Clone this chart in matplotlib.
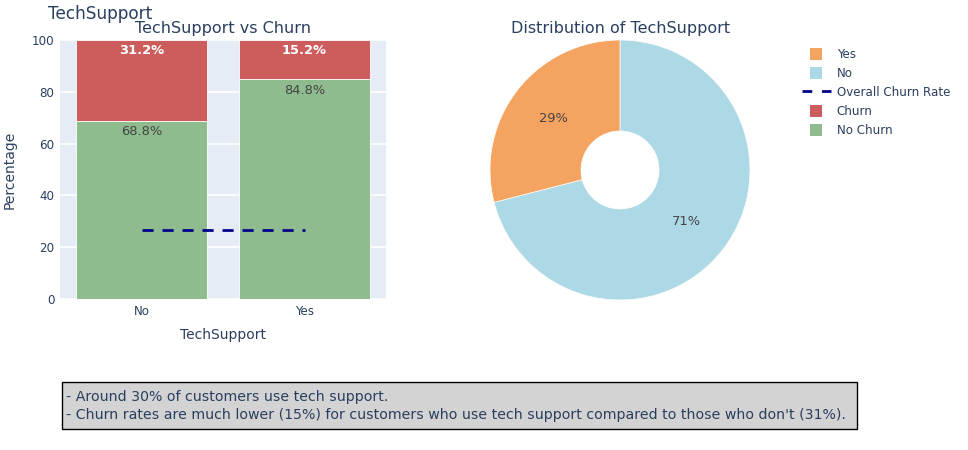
import matplotlib
matplotlib.use("Agg")
import matplotlib.pyplot as plt
from matplotlib.patches import Rectangle, Patch
from matplotlib.lines import Line2D
from matplotlib.legend_handler import HandlerPatch

plt.rcParams['font.family'] = ['DejaVu Sans']

categories = ['No', 'Yes']
no_churn = [68.8, 84.8]
churn = [31.2, 15.2]
overall_churn_rate = 26.5
pie_labels = ['No', 'Yes']
pie_values = [71.0, 29.0]
annotation_lines = [
    "- Around 30% of customers use tech support.",
    "- Churn rates are much lower (15%) for customers who use tech support compared to those who don't (31%).",
]

W, H = 968, 450
TXT = '#2a3f5f'
C_CHURN = '#CD5C5C'
C_NOCHURN = '#8FBC8F'
C_YES = '#F4A460'
C_NO = '#ADD8E6'

def px(x, y):
    return x / W, 1 - y / H

fig = plt.figure(figsize=(W / 100, H / 100), dpi=100)

# Bar axes
ax = fig.add_axes([60 / W, (H - 299) / H, 326 / W, 259 / H])
ax.set_facecolor('#E5ECF6')
xs = list(range(len(categories)))
ax.bar(xs, no_churn, width=0.8, color=C_NOCHURN, edgecolor='white', linewidth=0.6, zorder=3)
ax.bar(xs, churn, bottom=no_churn, width=0.8, color=C_CHURN, edgecolor='white', linewidth=0.6, zorder=3)
ax.plot(xs, [overall_churn_rate] * len(xs), color='#00008B', linestyle=(0, (4, 3.2)), linewidth=2, zorder=4)
for i in xs:
    ax.annotate(f"{no_churn[i]:.1f}%", (i, no_churn[i]), xytext=(0, -11), textcoords='offset pixels',
                ha='center', va='center', fontsize=9.4, color='#444444', zorder=5)
    ax.annotate(f"{churn[i]:.1f}%", (i, no_churn[i] + churn[i]), xytext=(0, -11), textcoords='offset pixels',
                ha='center', va='center', fontsize=9.4, color='white', fontweight='bold', zorder=5)
ax.set_xlim(-0.5, 1.5)
ax.set_ylim(0, 100)
ax.set_yticks([0, 20, 40, 60, 80, 100])
ax.set_xticks(xs)
ax.set_xticklabels(categories)
ax.grid(axis='y', color='white', linewidth=1.2, zorder=0)
ax.set_axisbelow(True)
for s in ax.spines.values():
    s.set_visible(False)
ax.tick_params(length=0, labelsize=8.6, labelcolor=TXT, pad=4)
ax.tick_params(axis='y', pad=4)

fig.text(*px(223, 335), 'TechSupport', ha='center', va='center', fontsize=10, color=TXT)
fig.text(*px(10, 170), 'Percentage', ha='center', va='center', rotation=90, fontsize=10, color=TXT)

# Titles
fig.text(*px(48, 14), 'TechSupport', ha='left', va='center', fontsize=12.2, color=TXT)
fig.text(*px(223, 29), 'TechSupport vs Churn', ha='center', va='center', fontsize=11.5, color=TXT)
fig.text(*px(621, 29), 'Distribution of TechSupport', ha='center', va='center', fontsize=11.5, color=TXT)

# Pie axes
pax = fig.add_axes([490 / W, (H - 300) / H, 260 / W, 260 / H])
wedges, texts, autotexts = pax.pie(
    pie_values, labels=None, colors=[C_NO, C_YES], startangle=90, counterclock=False,
    autopct='%1.0f%%', pctdistance=0.65, radius=1.0,
    wedgeprops=dict(width=0.7, edgecolor='white', linewidth=0.5),
    textprops=dict(fontsize=9.4, color='#444444'))
pax.set_xlim(-1, 1)
pax.set_ylim(-1, 1)
pax.set_aspect('equal')

# Legend
def square_patch(legend, orig_handle, xdescent, ydescent, width, height, fontsize):
    s = 8.8
    return Rectangle((-xdescent + width / 2 - s / 2, -ydescent + height / 2 - s / 2), s, s)

handles = [
    Patch(facecolor=C_YES, edgecolor='none', label='Yes'),
    Patch(facecolor=C_NO, edgecolor='none', label='No'),
    Line2D([0], [0], color='#00008B', linestyle=(0, (3.5, 3.5)), linewidth=2, label='Overall Churn Rate'),
    Patch(facecolor=C_CHURN, edgecolor='none', label='Churn'),
    Patch(facecolor=C_NOCHURN, edgecolor='none', label='No Churn'),
]
leg = fig.legend(handles=handles, loc='upper left', bbox_to_anchor=px(802, 48), frameon=False,
                 fontsize=8.6, labelcolor=TXT, handlelength=2.4, handleheight=1.0,
                 handletextpad=0.5, labelspacing=0.5, borderaxespad=0, borderpad=0,
                 handler_map={Patch: HandlerPatch(patch_func=square_patch)})

# Annotation box
fig.patches.append(Rectangle(px(62, 429), (857 - 62) / W, (429 - 382) / H, transform=fig.transFigure,
                             facecolor='#D3D3D3', edgecolor='black', linewidth=1, zorder=1))
fig.text(*px(66, 397), annotation_lines[0], ha='left', va='center', fontsize=10.2, color=TXT, zorder=2)
fig.text(*px(66, 415), annotation_lines[1], ha='left', va='center', fontsize=10.2, color=TXT, zorder=2)

fig.savefig('out.png', dpi=100, facecolor='white')
